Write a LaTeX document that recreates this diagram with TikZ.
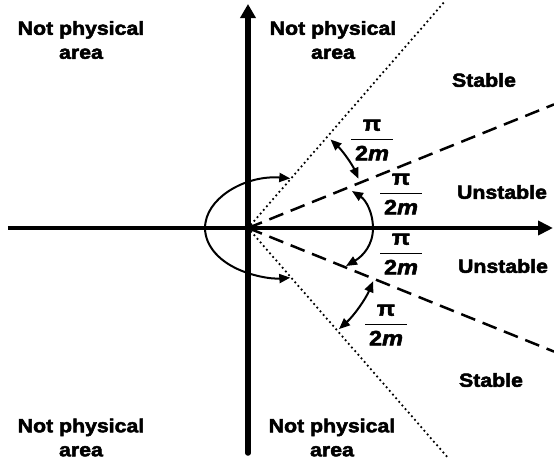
\documentclass[tikz,border=0pt]{standalone}
\usepackage{amsmath}
\usepackage{fontspec}
\usetikzlibrary{arrows.meta}
\newfontfamily\lbl{Liberation Sans}[BoldFeatures={FakeBold=2.6,FakeStretch=1.12},BoldItalicFeatures={FakeBold=2.6,FakeStretch=1.12}]
\newcommand\pifrac{$\genfrac{}{}{1.8pt}{0}{\text{π}}{\text{\kern4pt 2\itshape m\kern4pt}}$}
\begin{document}
\begin{tikzpicture}[x=1pt,y=1pt,
  region/.style={font=\lbl\bfseries\fontsize{19}{24}\selectfont, align=center, inner sep=0pt},
  fraclbl/.style={font=\lbl\bfseries\fontsize{21}{24}\selectfont, inner sep=0pt},
  vaxis/.style={line width=5.5pt, line cap=round, -{Triangle[length=14pt,width=15pt]}},
  haxis/.style={line width=4.5pt, -{Triangle[length=15pt,width=14pt]}},
  dotline/.style={line width=2.5pt, line cap=round, dash pattern=on 0pt off 4.8pt},
  dashline/.style={line width=2.5pt, dash pattern=on 15pt off 8pt},
  anglearc/.style={line width=2pt, {Triangle[length=11pt,width=9pt]}-{Triangle[length=11pt,width=9pt]}}]
\useasboundingbox (-248,-231) rectangle (306,228);
\coordinate (O) at (0,0);
\coordinate (vb) at (0,-225);
\coordinate (vt) at (0,224);
\coordinate (hl) at (-240,0);
\coordinate (hr) at (305,0);
\coordinate (dotU) at (198,228);
\coordinate (dotL) at (201,-231);
\coordinate (dashU) at (306,123.6);
\coordinate (dashL) at (306,-123.6);
% lines
\draw[dotline] (O) -- (dotU);
\draw[dotline] (O) -- (dotL);
\draw[dashline] (O) -- (dashU);
\draw[dashline] (O) -- (dashL);
\draw[haxis] (hl) -- (hr);
\draw[vaxis] (vb) -- (vt);
% arcs
\coordinate (la) at (42.3,49.6);
\draw[anglearc] (la) arc[start angle=83, end angle=277, x radius=76, y radius=50];
\coordinate (ua) at (47:121);
\draw[anglearc] (ua) arc[start angle=47, end angle=24, radius=121];
\coordinate (ra1) at (104,37);
\coordinate (ra2) at (125,0);
\coordinate (ra3) at (98,-38);
\draw[anglearc] (ra1) .. controls (118,28) and (125,15) .. (ra2) .. controls (125,-17) and (115,-28) .. (ra3);
\coordinate (da) at (-23:136);
\draw[anglearc] (da) arc[start angle=-23, end angle=-48, radius=136];
% labels
\node[region] (tl) at (-167,188) {Not physical\\area};
\node[region] (tm) at (85,188) {Not physical\\area};
\node[region] (bl) at (-167,-209.5) {Not physical\\area};
\node[region] (bm) at (84,-209.5) {Not physical\\area};
\node[region] (s1) at (236,148) {Stable};
\node[region] (u1) at (254,36) {Unstable};
\node[region] (u2) at (255,-38) {Unstable};
\node[region] (s2) at (243,-152) {Stable};
\node[fraclbl] (f1) at (124,88) {\pifrac};
\node[fraclbl] (f2) at (153,34) {\pifrac};
\node[fraclbl] (f3) at (153,-26) {\pifrac};
\node[fraclbl] (f4) at (138,-97) {\pifrac};
\end{tikzpicture}
\end{document}
